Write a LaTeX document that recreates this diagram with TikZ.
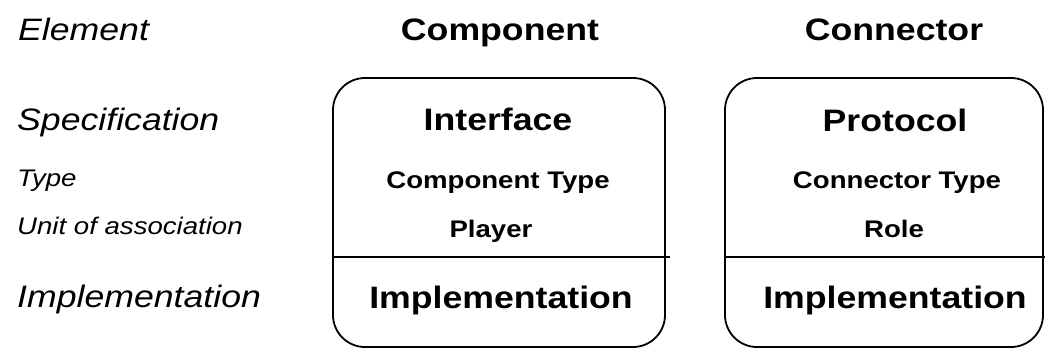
\documentclass[tikz,border=0pt]{standalone}
\usepackage{fontspec}
\setmainfont[FakeStretch=1.15]{Liberation Sans}
\begin{document}
\begin{tikzpicture}[x=1pt,y=-1pt,
  lbl/.style={inner sep=0pt,anchor=base west,font=\fontsize{31}{31}\selectfont\itshape},
  slbl/.style={inner sep=0pt,anchor=base west,font=\fontsize{24}{24}\selectfont\itshape},
  head/.style={inner sep=0pt,anchor=base,font=\fontsize{31}{31}\selectfont\bfseries},
  shead/.style={inner sep=0pt,anchor=base,font=\fontsize{24}{24}\selectfont\bfseries},
  boxline/.style={draw=black,line width=1.8pt,rounded corners=32pt}]
\useasboundingbox (0,0) rectangle (1045,351);
% left labels
\node[lbl] (el) at (18,40) {Element};
\node[lbl] (sp) at (17,130) {Specification};
\node[slbl] (ty) at (17,186) {Type};
\node[slbl] (ua) at (17,234) {Unit of association};
\node[lbl] (im) at (17,307) {Implementation};
% headers
\node[head] (comp) at (500,40) {Component};
\node[head] (conn) at (894,40) {Connector};
% boxes
\draw[boxline] (333,78) rectangle (665,347);
\draw[line width=1.8pt] (333,257) -- (670,257);
\draw[boxline] (725,78) rectangle (1043,347);
\draw[line width=1.8pt] (725,257) -- (1045,257);
% box 1 text
\node[head] (intf) at (498,130) {Interface};
\node[shead] (ctype) at (498,188) {Component Type};
\node[shead] (play) at (491,237) {Player};
\node[head] (imp1) at (501,308) {Implementation};
% box 2 text
\node[head] (prot) at (895,131) {Protocol};
\node[shead] (ntype) at (897,188) {Connector Type};
\node[shead] (role) at (894,237) {Role};
\node[head] (imp2) at (895,308) {Implementation};
\end{tikzpicture}
\end{document}
